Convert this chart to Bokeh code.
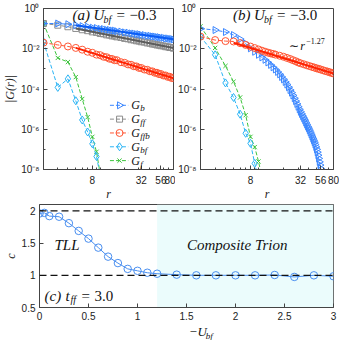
import math
from bokeh.plotting import figure
from bokeh.models import Range1d, FixedTicker, Label, BoxAnnotation, Span
from bokeh.layouts import column, row
from bokeh.embed import file_html
from bokeh.resources import INLINE

SERIF = "Liberation Serif"
SANS = "Liberation Sans"

# ---------------- data ----------------
r_dense = [2, 3, 4, 5, 6, 7, 8, 9, 10, 11, 12, 13, 14, 15, 16, 18, 20, 22, 24, 26, 28, 30, 32,
           35, 38, 41, 44, 47, 50, 53, 56, 60, 64, 68, 72, 76, 80]
a_Gb = [0.18, 0.18, 0.165, 0.148, 0.133, 0.124, 0.111, 0.107, 0.097, 0.095, 0.087, 0.086, 0.080,
        0.079, 0.074, 0.071, 0.065, 0.063, 0.058, 0.057, 0.053, 0.053, 0.049, 0.048, 0.044, 0.044,
        0.041, 0.0405, 0.038, 0.0378, 0.0355, 0.0352, 0.0328, 0.0327, 0.0307, 0.0306, 0.0290]
a_Gff = [0.18, 0.148, 0.124, 0.102, 0.088, 0.079, 0.069, 0.065, 0.057, 0.055, 0.049, 0.048, 0.0435,
         0.043, 0.039, 0.0365, 0.0326, 0.0312, 0.0281, 0.0272, 0.0248, 0.0243, 0.0222, 0.0214,
         0.0194, 0.0189, 0.0171, 0.0169, 0.0154, 0.0153, 0.0141, 0.0138, 0.0126, 0.0125, 0.0115,
         0.0115, 0.0106]
a_Gffb = [0.020, 0.0155, 0.013, 0.011, 0.0090, 0.0071, 0.0063, 0.0051, 0.0048, 0.0040, 0.0038,
          0.0032, 0.0031, 0.0027, 0.0027, 0.00215, 0.0020, 0.00167, 0.0016, 0.00135, 0.00132,
          0.00112, 0.00111, 9.3e-4, 9.0e-4, 7.6e-4, 7.5e-4, 6.4e-4, 6.4e-4, 5.5e-4, 5.55e-4,
          4.7e-4, 4.7e-4, 4.0e-4, 4.05e-4, 3.5e-4, 3.55e-4]
r_short_a = [2, 3, 4, 5, 6, 7, 8, 9, 10]
a_Gbf = [0.022, 1.2e-4, 3.2e-4, 2.6e-5, 2.9e-6, 7.3e-7, 1.9e-7, 4.4e-8, 5e-9]
a_Gf = [0.18, 3.5e-3, 2.2e-3, 3.9e-4, 3.2e-5, 4e-6, 4.2e-7, 7.6e-8, 6e-9]

fit_r = [5, 80]
a_fit_Gb = [0.148, 0.0296]
a_fit_Gff = [0.102, 0.0108]
a_fit_Gffb = [0.011, 3.44e-4]

r_dense_b = [2, 3, 4, 5, 6, 7, 8, 9, 10, 11, 12, 13, 14, 15, 16, 17, 18, 19, 20, 21, 22, 23, 24,
             25, 26, 27, 28, 29, 30, 31, 32, 33, 34, 35, 36, 37, 38, 39, 40, 41, 42, 43, 44, 45,
             46, 47, 48, 49, 50, 51, 52, 53, 54, 55, 56, 57]
b_Gb = [0.100, 0.0851, 0.0676, 0.0479, 0.0302, 0.0182, 0.0105, 0.00708, 0.00501, 0.00372,
        0.00282, 0.00209, 0.00158, 0.00120, 9.33e-4, 7.08e-4, 5.37e-4, 3.98e-4, 3.02e-4, 2.24e-4,
        1.66e-4, 1.23e-4, 8.91e-5, 6.61e-5, 4.79e-5, 3.47e-5, 2.51e-5, 1.82e-5, 1.32e-5, 9.77e-6,
        7.41e-6, 5.75e-6, 4.47e-6, 3.55e-6, 2.82e-6, 2.19e-6, 1.74e-6, 1.38e-6, 1.12e-6, 8.91e-7,
        7.08e-7, 5.62e-7, 4.47e-7, 3.55e-7, 2.82e-7, 2.24e-7, 1.74e-7, 1.32e-7, 1.00e-7, 7.24e-8,
        5.13e-8, 3.55e-8, 2.40e-8, 1.66e-8, 1.12e-8, 7.08e-9]
b_Gffb = [0.040, 0.027, 0.024, 0.023, 0.019, 0.0155, 0.0128, 0.0108, 0.0092, 0.0080, 0.0071,
          0.0064, 0.0059, 0.0055, 0.0051, 0.0045, 0.0040, 0.0035, 0.0031, 0.0027, 0.0024, 0.0021,
          0.0019, 0.0017, 0.00152, 0.00138, 0.00126, 0.00116, 0.00107, 0.00100, 0.00093, 0.00085,
          0.00078, 0.00073, 0.00068, 0.00063, 0.00059]
b_fit_Gffb = [0.020, 5.9e-4]
r_bf_b = [2, 3, 4, 5, 6, 7, 8, 9, 10]
b_Gbf = [0.04, 5e-3, 2e-4, 3.8e-5, 5.6e-6, 6.3e-7, 2e-7, 2e-8, 3e-9]
r_f_b = [2, 3, 4, 5, 6, 7, 8, 9, 10, 11]
b_Gf = [0.13, 0.011, 1.4e-3, 2.3e-4, 3.8e-5, 5e-6, 4.2e-7, 1.3e-7, 2.5e-8, 4e-9]

Ubf = [0, 0.05, 0.1, 0.2, 0.3, 0.4, 0.5, 0.6, 0.7, 0.8, 0.9, 1.0, 1.1, 1.2, 1.4, 1.6, 1.8, 2.0,
       2.2, 2.4, 2.6, 2.8, 3.0]
c_vals = [1.96, 1.97, 1.92, 1.91, 1.81, 1.69, 1.57, 1.43, 1.29, 1.19, 1.10, 1.07, 1.04, 1.025,
          1.01, 1.0, 1.0, 1.0, 1.0, 1.005, 0.975, 1.0, 0.985]
c_levels = [2.0, 1.0]
trion_boundary = 1.2

legend_subscripts = ["b", "ff", "ffb", "bf", "f"]
r_ticks = [8, 32, 56, 80]
r_minor = [3, 4, 5, 6, 7, 9, 10, 20, 30, 40, 50, 60, 70]
G_ticks = [1.0, 1e-2, 1e-4, 1e-6, 1e-8]
G_minor = [1e-1, 1e-3, 1e-5, 1e-7]
G_tick_labels = ["10⁰", "10⁻²", "10⁻⁴", "10⁻⁶", "10⁻⁸"]
U_ticks = [0, 0.5, 1, 1.5, 2, 2.5, 3]
U_tick_labels = ["0", "0.5", "1", "1.5", "2", "2.5", "3"]
c_ticks = [0.5, 1, 1.5, 2]
c_tick_labels = ["0.5", "1", "1.5", "2"]

# ---------------- colours ----------------
C_B = "#3a86ff"; C_B_FIT = "#0a5cf5"
C_FF = "#8c8c8c"; C_FF_FIT = "#5c5c5c"
C_FFB = "#ff5533"; C_FFB_FIT = "#ff2200"
C_BF = "#2ab4f5"
C_F = "#3cc43c"
C_C = "#4a8ff0"
AX = "#444444"

XR = (2, 80)
YR = (1e-8, 1.0)


def style(p):
    p.xgrid.visible = False
    p.ygrid.visible = False
    p.outline_line_color = AX
    p.background_fill_color = "white"
    p.border_fill_color = "white"
    for ax in p.axis:
        ax.axis_line_color = AX
        ax.major_tick_line_color = AX
        ax.minor_tick_line_color = AX
        ax.major_tick_in = 4
        ax.major_tick_out = 0
        ax.minor_tick_in = 2
        ax.minor_tick_out = 0
        ax.major_label_text_font = SANS
        ax.major_label_text_font_size = "10px"
        ax.major_label_text_color = "#222222"
        ax.major_label_standoff = 4
        ax.axis_label_text_font = SERIF
        ax.axis_label_text_font_style = "italic"
        ax.axis_label_text_font_size = "12px"
        ax.axis_label_text_color = "#222222"
        ax.axis_label_standoff = 1


def to_data(xr, yr, fw, fh, px, py, xlog, ylog):
    def m(lo, hi, f, lg):
        if lg:
            return 10 ** (math.log10(lo) + f * (math.log10(hi) - math.log10(lo)))
        return lo + f * (hi - lo)
    return m(xr[0], xr[1], px / fw, xlog), m(yr[0], yr[1], py / fh, ylog)


def rich(p, x, y, pieces):
    for text, dx, dy, size, fstyle in pieces:
        p.add_layout(Label(x=x, y=y, x_offset=dx, y_offset=dy, text=text, text_font=SERIF,
                           text_font_size=f"{size}px", text_font_style=fstyle,
                           text_baseline="middle", text_align="left", text_color="#111111"))


def log_panel(width, left, right, ylabel):
    p = figure(width=width, height=203, x_axis_type="log", y_axis_type="log",
               x_range=Range1d(*XR), y_range=Range1d(*YR), output_backend="svg",
               toolbar_location=None, min_border_left=left, min_border_right=right,
               min_border_top=8, min_border_bottom=32)
    style(p)
    p.xaxis.ticker = FixedTicker(ticks=r_ticks, minor_ticks=r_minor)
    p.xaxis.major_label_overrides = {t: str(t) for t in r_ticks}
    p.xaxis.major_label_standoff = 6
    p.xaxis.axis_label_standoff = 0
    p.yaxis.ticker = FixedTicker(ticks=G_ticks, minor_ticks=G_minor)
    p.yaxis.major_label_overrides = {t: l for t, l in zip(G_ticks, G_tick_labels)}
    p.xaxis.axis_label = "r"
    if ylabel:
        p.yaxis.axis_label = ylabel
    return p


def series(p, xs, ys, color, marker, size, angle=0.0, dash="4 2"):
    p.line(xs, ys, line_color=color, line_width=1, line_dash=dash)
    p.scatter(xs, ys, marker=marker, size=size, angle=angle, fill_color=None,
              line_color=color, line_width=1)


FW, FH = 135, 163

# ---------------- panel (a) ----------------
pa = log_panel(175, 38, 2, "|G(r)|")
series(pa, r_short_a, a_Gf, C_F, "x", 6)
series(pa, r_short_a, a_Gbf, C_BF, "diamond", 8)
series(pa, r_dense, a_Gffb, C_FFB, "circle", 7)
series(pa, r_dense, a_Gff, C_FF, "square", 6)
series(pa, r_dense, a_Gb, C_B, "triangle", 7, angle=-math.pi / 2)
pa.line(fit_r, a_fit_Gffb, line_color=C_FFB_FIT, line_width=2)
pa.line(fit_r, a_fit_Gff, line_color=C_FF_FIT, line_width=2)
pa.line(fit_r, a_fit_Gb, line_color=C_B_FIT, line_width=2)

# legend (drawn in frame pixels, converted through the axes' scales)
leg_styles = [(C_B, "triangle", 7, -math.pi / 2), (C_FF, "square", 6, 0.0),
              (C_FFB, "circle", 7, 0.0), (C_BF, "diamond", 8, 0.0), (C_F, "x", 6, 0.0)]
for k, (sub, (col, mk, sz, ang)) in enumerate(zip(legend_subscripts, leg_styles)):
    py = 9 + 14 * (4 - k)
    x0, y = to_data(XR, YR, FW, FH, 69, py, True, True)
    x1, _ = to_data(XR, YR, FW, FH, 88, py, True, True)
    xm, _ = to_data(XR, YR, FW, FH, 79, py, True, True)
    pa.line([x0, x1], [y, y], line_color=col, line_width=1, line_dash="4 2")
    pa.scatter([xm], [y], marker=mk, size=sz, angle=ang, fill_color=None, line_color=col,
               line_width=1)
    xt, _ = to_data(XR, YR, FW, FH, 91, py, True, True)
    rich(pa, xt, y, [("G", 0, 0, 12, "italic"), (sub, 9, -3, 9, "italic")])

x, y = to_data(XR, YR, FW, FH, 30, 156, True, True)
rich(pa, x, y, [("(a)", 0, 0, 15, "italic"), ("U", 21, 0, 15, "italic"),
                ("bf", 31, -4, 10, "italic"), ("=", 44, 0, 15, "normal"),
                ("−0.3", 57, 0, 15, "normal")])

# ---------------- panel (b) ----------------
pb = log_panel(164, 23, 6, None)
series(pb, r_f_b, b_Gf, C_F, "x", 6)
series(pb, r_bf_b, b_Gbf, C_BF, "diamond", 8)
series(pb, r_dense_b, b_Gb, C_B, "triangle", 7, angle=-math.pi / 2)
series(pb, r_dense, b_Gffb, C_FFB, "circle", 7)
pb.line(fit_r, b_fit_Gffb, line_color=C_FFB_FIT, line_width=2)

x, y = to_data(XR, YR, FW, FH, 33, 156, True, True)
rich(pb, x, y, [("(b)", 0, 0, 15, "italic"), ("U", 21, 0, 15, "italic"),
                ("bf", 31, -4, 10, "italic"), ("=", 44, 0, 15, "normal"),
                ("−3.0", 57, 0, 15, "normal")])
x, y = to_data(XR, YR, FW, FH, 90, 125, True, True)
rich(pb, x, y, [("∼", 0, 0, 12, "normal"), ("r", 11, 0, 12, "italic"),
                ("−1.27", 17, 5, 8, "normal")])

# ---------------- panel (c) ----------------
FC_W, FC_H = 295, 103
CXR, CYR = (0, 3), (0.5, 2.1)
pc = figure(width=339, height=122, x_range=Range1d(*CXR), y_range=Range1d(*CYR),
            output_backend="svg", toolbar_location=None, min_border_left=38,
            min_border_right=6, min_border_top=1, min_border_bottom=18)
style(pc)
pc.xaxis.ticker = FixedTicker(ticks=U_ticks)
pc.xaxis.major_label_overrides = {t: l for t, l in zip(U_ticks, U_tick_labels)}
pc.yaxis.ticker = FixedTicker(ticks=c_ticks)
pc.yaxis.major_label_overrides = {t: l for t, l in zip(c_ticks, c_tick_labels)}
pc.yaxis.axis_label = "c"
pc.add_layout(BoxAnnotation(left=trion_boundary, fill_color="#ebfcfc", fill_alpha=1.0,
                            line_alpha=0, level="underlay"))
for lv in c_levels:
    pc.add_layout(Span(location=lv, dimension="width", line_color="#111111", line_width=1.3,
                       line_dash="7 4"))
pc.line(Ubf, c_vals, line_color=C_C, line_width=1)
pc.scatter(Ubf, c_vals, marker="circle", size=7.5, fill_color=None, line_color=C_C, line_width=1)

x, y = to_data(CXR, CYR, FC_W, FC_H, 15, 63, False, False)
rich(pc, x, y, [("TLL", 0, 0, 15, "italic")])
x, y = to_data(CXR, CYR, FC_W, FC_H, 148, 63, False, False)
rich(pc, x, y, [("Composite Trion", 0, 0, 15, "italic")])
x, y = to_data(CXR, CYR, FC_W, FC_H, 5, 12, False, False)
rich(pc, x, y, [("(c)", 0, 0, 15, "italic"), ("t", 21, 0, 15, "italic"),
                ("ff", 26, -4, 10, "italic"), ("=", 37, 0, 15, "normal"),
                ("3.0", 50, 0, 15, "normal")])

# ---------------- x label of (c) ----------------
pu = figure(width=339, height=15, x_range=Range1d(0, 339), y_range=Range1d(0, 15),
            output_backend="svg", toolbar_location=None, x_axis_location=None,
            y_axis_location=None, min_border=0)
pu.xgrid.visible = False
pu.ygrid.visible = False
pu.outline_line_color = None
rich(pu, 172, 9, [("−U", 0, 0, 13, "italic"), ("bf", 17, -4, 9, "italic")])

layout = column(row(pa, pb), pc, pu)
open("out.html", "w").write(file_html(layout, INLINE))
